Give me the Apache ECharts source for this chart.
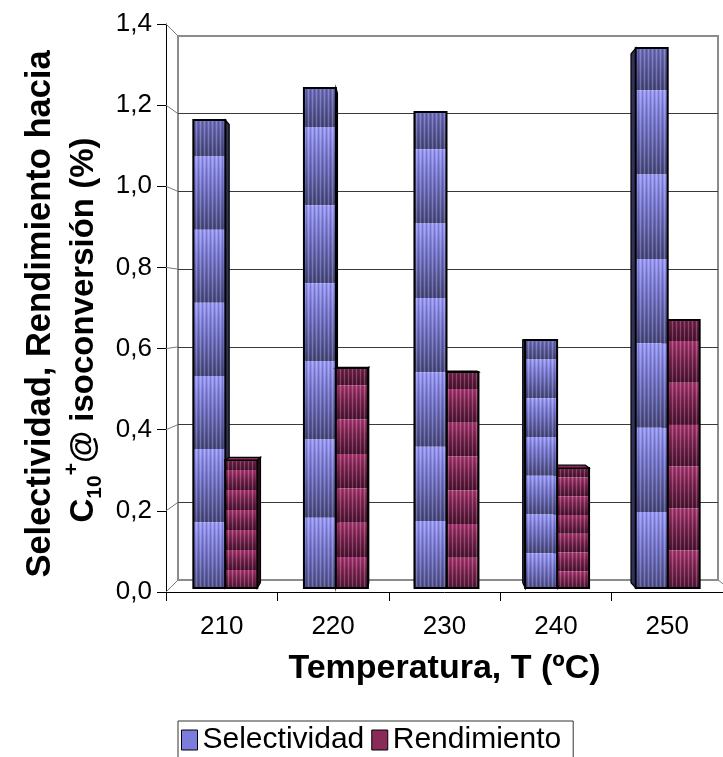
<!DOCTYPE html>
<html>
<head>
<meta charset="utf-8">
<script src="https://cdn.jsdelivr.net/npm/echarts@6/dist/echarts.min.js"></script>
<style>
  html, body { margin: 0; padding: 0; background: #fff; }
  #chart { width: 723px; height: 757px; }
</style>
</head>
<body>
<div id="chart"></div>
<script>
// Temperature categories and the two measured series (%)
const categories = ['210', '220', '230', '240', '250'];
const selectividad = [1.17, 1.25, 1.19, 0.62, 1.35];
const rendimiento = [0.32, 0.55, 0.54, 0.30, 0.67];
const yMin = 0, yMax = 1.4, yStep = 0.2;

const FONT = '"Liberation Sans", Arial, sans-serif';

// Pseudo-3D layout: front axis plane, back wall plane, and the bar face plane between them
const FRONT = { left: 166, top: 24, width: 568, height: 568 };
const BACK  = { left: 178, top: 36, width: 540, height: 544 };
const FACE  = { left: 170, top: 28, width: 562, height: 560 };
const VP = [410, 335];      // vanishing point for the bar depth
const DEPTH = 0.021;        // bar depth as a fraction of the distance to VP
const BAR_FRAC = 0.289;     // bar width as a fraction of the category band
const BANDS = 6.4;          // shaded bands per bar

const BLUE = { light: '#9898f8', mid: '#7474cc', dark: '#47477c', side: '#31315a', top: '#8080d0', flat: '#7c7cdc' };
const RED  = { light: '#a83670', mid: '#7e2552', dark: '#4a1230', side: '#360a20', top: '#8a2a5c', flat: '#8a2a58' };

// fine vertical stripe texture laid over each bar face
const stripe = document.createElement('canvas');
stripe.width = 4; stripe.height = 2;
(function () {
  const c = stripe.getContext('2d');
  c.fillStyle = 'rgba(255,255,255,0.20)'; c.fillRect(0, 0, 1, 2);
  c.fillStyle = 'rgba(0,0,0,0.16)'; c.fillRect(2, 0, 1, 2);
})();

function toBack(p) {
  return [p[0] + (VP[0] - p[0]) * DEPTH, p[1] + (VP[1] - p[1]) * DEPTH];
}

function barRenderer(side, pal) {
  return function (params, api) {
    const idx = api.value(0), v = api.value(1);
    const top = api.coord([idx, v]);
    const base = api.coord([idx, 0]);
    const band = api.size([1, 0])[0];
    const w = band * BAR_FRAC;
    const x0 = top[0] + (side < 0 ? -w : 0), x1 = x0 + w;
    const yT = top[1], yB = base[1];
    const leftOfVP = top[0] < VP[0];
    // the bar nearer the vanishing point hides the inner side of its neighbour
    const zBase = (side < 0) === leftOfVP ? 0 : 10;
    const children = [];

    // side face
    if (x1 < VP[0]) {
      const a = toBack([x1, yT]), b = toBack([x1, yB]);
      children.push({ type: 'polygon', z2: zBase + 1,
        shape: { points: [[x1, yT], a, b, [x1, yB]] },
        style: { fill: pal.side, stroke: '#000', lineWidth: 1.2 } });
    } else if (x0 > VP[0]) {
      const a = toBack([x0, yT]), b = toBack([x0, yB]);
      children.push({ type: 'polygon', z2: zBase + 1,
        shape: { points: [[x0, yT], a, b, [x0, yB]] },
        style: { fill: pal.side, stroke: '#000', lineWidth: 1.2 } });
    }
    // top face, seen only when the bar top lies below the vanishing point
    if (yT > VP[1]) {
      children.push({ type: 'polygon', z2: zBase + 6,
        shape: { points: [[x0, yT], [x1, yT], toBack([x1, yT]), toBack([x0, yT])] },
        style: { fill: pal.top, stroke: '#000', lineWidth: 1.2 } });
    }
    // shaded bands on the front face
    const P = (yB - yT) / BANDS;
    let s = yT - 0.5 * P;
    while (s < yB) {
      const a = Math.max(s, yT), b = Math.min(s + P, yB);
      if (b > a) {
        children.push({ type: 'rect', z2: zBase + 2,
          shape: { x: x0, y: a, width: w, height: b - a },
          style: { fill: new echarts.graphic.LinearGradient(0, s, 0, s + P, [
            { offset: 0, color: pal.light },
            { offset: 0.4, color: pal.mid },
            { offset: 1, color: pal.dark }
          ], true) } });
      }
      s += P;
    }
    children.push({ type: 'rect', z2: zBase + 3,
      shape: { x: x0, y: yT, width: w, height: yB - yT },
      style: { fill: { image: stripe, repeat: 'repeat' } } });
    children.push({ type: 'rect', z2: zBase + 4,
      shape: { x: x0, y: yT, width: w, height: yB - yT },
      style: { fill: null, stroke: '#000', lineWidth: 2 } });
    return { type: 'group', children: children };
  };
}

const fmt = v => v.toFixed(1).replace('.', ',');

const chart = echarts.init(document.getElementById('chart'), null, { renderer: 'canvas' });

const titleRich = {
  t: { fontSize: 33, fontWeight: 'bold', fontFamily: FONT, color: '#000', lineHeight: 44 },
  sub: { fontSize: 21, fontWeight: 'bold', fontFamily: FONT, color: '#000', lineHeight: 22, verticalAlign: 'bottom' },
  sup: { fontSize: 21, fontWeight: 'bold', fontFamily: FONT, color: '#000', lineHeight: 22, verticalAlign: 'top' }
};

const option = {
  animation: false,
  backgroundColor: '#fff',
  textStyle: { fontFamily: FONT },
  grid: [
    Object.assign({ show: false }, FRONT),
    Object.assign({ show: true, borderColor: '#8c8c8c', borderWidth: 2, backgroundColor: '#fff' }, BACK),
    Object.assign({ show: false }, FACE)
  ],
  xAxis: [
    { gridIndex: 0, type: 'category', data: categories, boundaryGap: true,
      axisLine: { lineStyle: { color: '#000', width: 1 } },
      axisTick: { show: true, length: 9, lineStyle: { color: '#000' } },
      axisLabel: { fontSize: 26, color: '#000', fontFamily: FONT, margin: 22 },
      name: 'Temperatura, T (ºC)', nameLocation: 'middle', nameGap: 60,
      nameTextStyle: { fontSize: 34, fontWeight: 'bold', color: '#000', fontFamily: FONT },
      splitLine: { show: false } },
    { gridIndex: 1, type: 'category', data: categories, show: false },
    { gridIndex: 2, type: 'category', data: categories, show: false }
  ],
  yAxis: [
    { gridIndex: 0, type: 'value', min: yMin, max: yMax, interval: yStep,
      axisLine: { show: true, lineStyle: { color: '#000', width: 1 } },
      axisTick: { show: true, length: 9, lineStyle: { color: '#000' } },
      axisLabel: { fontSize: 26, color: '#000', fontFamily: FONT, margin: 14, formatter: fmt },
      splitLine: { show: false } },
    { gridIndex: 1, type: 'value', min: yMin, max: yMax, interval: yStep,
      axisLine: { show: false }, axisTick: { show: false }, axisLabel: { show: false },
      splitLine: { show: true, lineStyle: { width: 1,
        color: ['#8c8c8c', '#3a3a3a', '#3a3a3a', '#3a3a3a', '#3a3a3a', '#3a3a3a', '#3a3a3a', '#8c8c8c'] } } },
    { gridIndex: 2, type: 'value', min: yMin, max: yMax, interval: yStep, show: false }
  ],
  legend: {
    data: ['Selectividad', 'Rendimiento'],
    left: 178, top: 721,
    icon: 'rect', itemWidth: 16, itemHeight: 20, itemGap: 7,
    padding: [4, 12, 6, 3],
    borderColor: '#333', borderWidth: 1,
    itemStyle: { borderColor: '#000', borderWidth: 1 },
    textStyle: { fontSize: 30, color: '#000', fontFamily: FONT }
  },
  graphic: [
    { id: 'ytitle1', type: 'text', x: 40, y: 314, rotation: Math.PI / 2,
      style: { text: '{t|Selectividad, Rendimiento hacia}', x: 0, y: 0,
        textAlign: 'center', textVerticalAlign: 'middle',
        rich: { t: Object.assign({}, titleRich.t, { fontSize: 34.5 }) } } },
    { id: 'ytitle2', type: 'text', x: 84, y: 330, rotation: Math.PI / 2,
      style: { text: '{t|C}{sub|10}{sup|+}{t|@ isoconversión (%)}', x: 0, y: 0,
        textAlign: 'center', textVerticalAlign: 'middle', rich: titleRich } }
  ],
  series: [
    { type: 'custom', name: 'Selectividad', xAxisIndex: 2, yAxisIndex: 2,
      renderItem: barRenderer(-1, BLUE), clip: false,
      itemStyle: { color: BLUE.flat },
      encode: { x: 0, y: 1 },
      data: categories.map((c, i) => [i, selectividad[i]]) },
    { type: 'custom', name: 'Rendimiento', xAxisIndex: 2, yAxisIndex: 2,
      renderItem: barRenderer(1, RED), clip: false,
      itemStyle: { color: RED.flat },
      encode: { x: 0, y: 1 },
      data: categories.map((c, i) => [i, rendimiento[i]]) }
  ]
};
chart.setOption(option);

// side-wall and floor edges joining the front axis to the back wall
const walls = [];
let k = 0;
for (let v = yMin; v <= yMax + 1e-9; v += yStep, k++) {
  const yf = chart.convertToPixel({ yAxisIndex: 0 }, v);
  const yb = chart.convertToPixel({ yAxisIndex: 1 }, v);
  walls.push({ id: 'wall' + k, type: 'line', z: 1,
    shape: { x1: FRONT.left, y1: yf, x2: BACK.left, y2: yb },
    style: { stroke: '#7a7a7a', lineWidth: 1 } });
}
{
  const yf = chart.convertToPixel({ yAxisIndex: 0 }, yMin);
  const yb = chart.convertToPixel({ yAxisIndex: 1 }, yMin);
  walls.push({ id: 'floorR', type: 'line', z: 1,
    shape: { x1: FRONT.left + FRONT.width, y1: yf, x2: BACK.left + BACK.width, y2: yb },
    style: { stroke: '#7a7a7a', lineWidth: 1 } });
}
chart.setOption({ graphic: walls });
</script>
</body>
</html>
